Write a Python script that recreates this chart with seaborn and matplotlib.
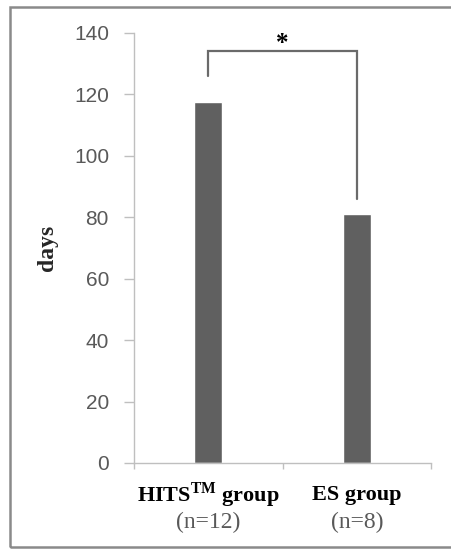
import numpy as np
import pandas as pd
import seaborn as sns
import matplotlib.pyplot as plt
import matplotlib.transforms as mtransforms
from matplotlib.patches import Rectangle

# values
groups = ["HITS", "ES"]
days = [117.5, 81]
group_labels = [r"HITS$^{\mathbf{TM}}$ group", "ES group"]
n_labels = ["(n=12)", "(n=8)"]
y_ticks = [0, 20, 40, 60, 80, 100, 120, 140]
# significance bracket: top, left leg end, right leg end
bracket = [134, 126, 86]

sns.set_style("white")
plt.rcParams['font.family'] = ['Liberation Serif', 'DejaVu Serif']
plt.rcParams['mathtext.fontset'] = 'custom'
plt.rcParams['mathtext.bf'] = 'Liberation Serif:bold'
plt.rcParams['mathtext.rm'] = 'Liberation Serif'

df = pd.DataFrame({"group": groups, "days": days})

fig = plt.figure(figsize=(4.52, 5.5), dpi=100)
ax = fig.add_axes([134/452, 1-463/550, (431-134)/452, (463-33)/550])

sns.barplot(data=df, x="group", y="days", color="#606060", width=0.19,
            saturation=1, ax=ax)

ax.set_xlim(-0.5, 1.5)
ax.set_ylim(0, 140)
ax.set_yticks(y_ticks)
ax.set_yticklabels([str(v) for v in y_ticks], family='Liberation Sans',
                   fontsize=15, color='#595959')
ax.tick_params(axis='y', direction='out', length=7, width=1, color='#bfbfbf',
               left=True, pad=11)

# category labels at centres, ticks at boundaries
ax.set_xticks([0, 1])
ax.set_xticklabels([])
ax.tick_params(axis='x', which='major', length=0)
ax.set_xticks([-0.5, 0.5, 1.5], minor=True)
ax.tick_params(axis='x', which='minor', direction='out', length=4, width=1,
               color='#bfbfbf', bottom=True)

for side in ['top', 'right']:
    ax.spines[side].set_visible(False)
for side in ['left', 'bottom']:
    ax.spines[side].set_color('#bfbfbf')
    ax.spines[side].set_linewidth(1)

ax.set_xlabel("")
ax.set_ylabel("days", fontsize=17, fontweight='bold')
ax.yaxis.set_label_coords(-0.256, 0.5)

trans = mtransforms.blended_transform_factory(ax.transData, ax.transAxes)
for i, (g, n) in enumerate(zip(group_labels, n_labels)):
    ax.text(i, -0.075, g, transform=trans, ha='center', va='center',
            fontsize=16, fontweight='bold', color='black')
    ax.text(i, -0.138, n, transform=trans, ha='center', va='center',
            fontsize=17, color='#595959')

# significance bracket
ax.plot([0, 0, 1, 1], [bracket[1], bracket[0], bracket[0], bracket[2]],
        color='#6a6a6a', lw=1.6, clip_on=False, solid_joinstyle='miter')
ax.text(0.5, bracket[0] + 2.6, "*", ha='center', va='center', fontsize=18,
        fontweight='bold', color='black')

# outer frame
fig.patches.append(Rectangle((10/452, 3/550), 1.0, (547-7)/550,
                             transform=fig.transFigure, fill=False,
                             edgecolor='#8a8a8a', lw=1.8))

fig.savefig("out.png", dpi=100)
